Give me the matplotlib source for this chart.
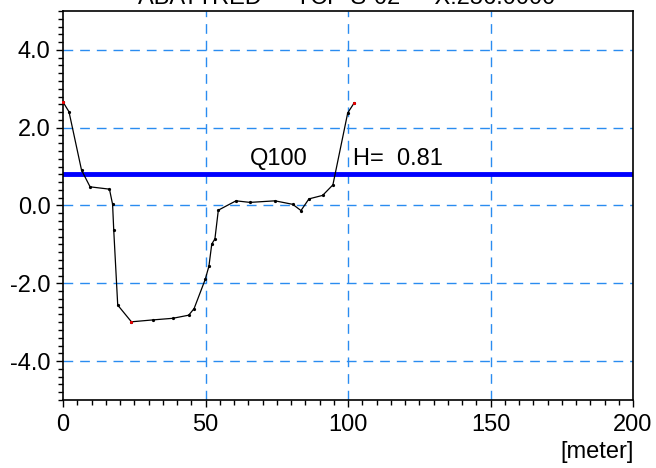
import matplotlib
matplotlib.use("Agg")
import matplotlib.pyplot as plt
from matplotlib.ticker import MultipleLocator, FormatStrFormatter

plt.rcParams['font.family'] = ['Liberation Sans', 'DejaVu Sans']
plt.rcParams['axes.unicode_minus'] = False

# Cross-section profile (station [m], elevation)
station = [0.0, 2.1, 6.5, 9.5, 16.3, 17.4, 17.8, 19.2, 24.0, 31.7, 38.5, 44.1, 46.0,
           49.9, 51.2, 52.2, 53.3, 54.5, 60.7, 65.6, 74.4, 80.6, 83.5, 86.3, 91.1,
           94.7, 99.9, 102.1]
elevation = [2.66, 2.41, 0.91, 0.48, 0.42, 0.03, -0.63, -2.56, -2.99, -2.94, -2.90,
             -2.82, -2.65, -1.90, -1.56, -0.99, -0.86, -0.12, 0.12, 0.08, 0.12, 0.03,
             -0.13, 0.17, 0.26, 0.53, 2.38, 2.63]
# highlighted points (banks and thalweg)
red_station = [0.0, 24.0, 102.1]
red_elevation = [2.66, -2.99, 2.63]

water_level = 0.81
water_name = "Q100"
title_text = "ABATTRED  -  TCP-S-02  -  X:256.0000"

x_ticks = [0, 50, 100, 150, 200]
y_ticks = [-4.0, -2.0, 0.0, 2.0, 4.0]

FS = 17

fig = plt.figure(figsize=(6.56, 4.68), dpi=100)
ax = fig.add_axes([63/656, 1-400/468, 570/656, 389/468])

ax.set_xlim(0, 200)
ax.set_ylim(-5, 5)

grid_color = '#2a8cf0'
for xv in x_ticks[1:-1]:
    ax.axvline(xv, color=grid_color, lw=1.0, dashes=(7, 5), zorder=1)
for yv in y_ticks:
    ax.axhline(yv, color=grid_color, lw=1.0, dashes=(7, 5), zorder=1)

ax.axhline(water_level, color='#0000ff', lw=3.5, zorder=2)

ax.plot(station, elevation, color='black', lw=0.9, marker='o', ms=1.3,
        mfc='black', mec='black', zorder=3)
ax.plot(red_station, red_elevation, ls='none', marker='s', ms=1.8, mew=0.5,
        mfc='red', mec='red', zorder=4, clip_on=False)

ax.text(65.6, water_level + 0.22, water_name, fontsize=FS, ha='left', va='baseline', zorder=5)
ax.text(101.6, water_level + 0.22, "H=  %.2f" % water_level, fontsize=FS,
        ha='left', va='baseline', zorder=5)

ax.set_xticks(x_ticks)
ax.set_yticks(y_ticks)
ax.xaxis.set_minor_locator(MultipleLocator(5))
ax.yaxis.set_minor_locator(MultipleLocator(0.2))
ax.yaxis.set_major_formatter(FormatStrFormatter('%.1f'))
ax.tick_params(axis='both', which='major', labelsize=FS, direction='out', length=5, width=1)
ax.tick_params(axis='both', which='minor', direction='out', length=3.5, width=1)
ax.tick_params(axis='y', which='major', pad=4)
ax.tick_params(axis='x', which='major', pad=5)

for s in ax.spines.values():
    s.set_linewidth(1.2)
    s.set_color('black')

fig.text(634/656, 1-452/468, "[meter]", fontsize=FS, ha='right', va='center')
fig.text(347/656, 1-3.5/468, title_text, fontsize=FS, ha='center', va='baseline')

fig.savefig("out.png", dpi=100)
